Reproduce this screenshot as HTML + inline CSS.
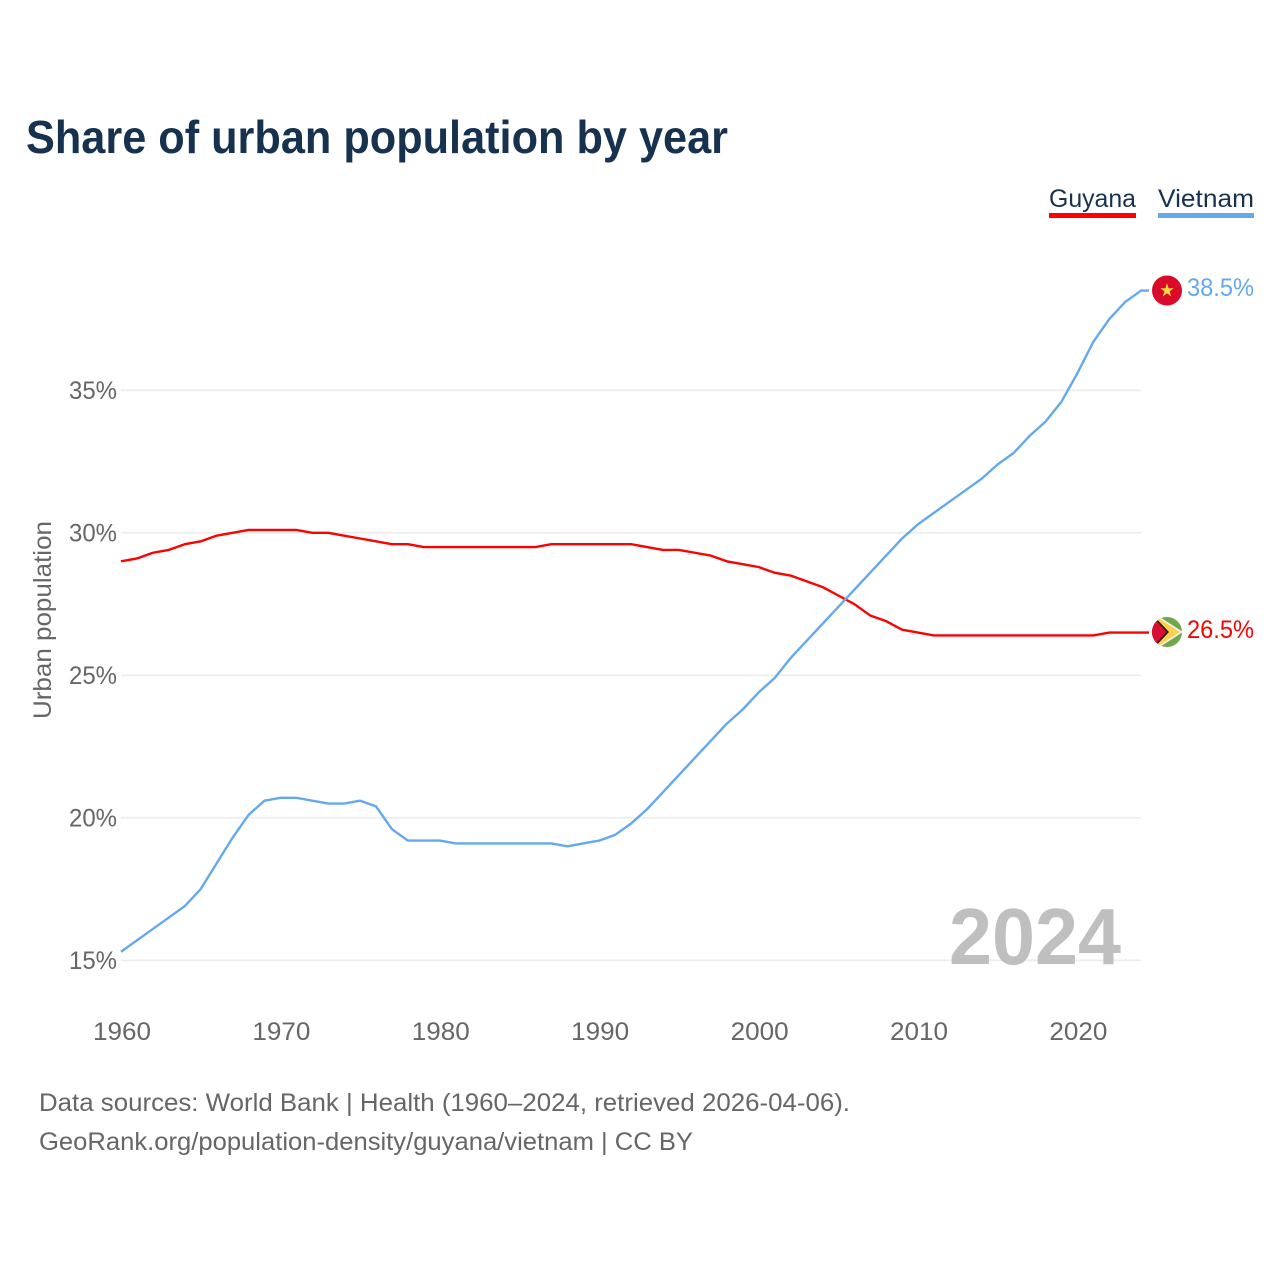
<!DOCTYPE html>
<html lang="en">
<head>
<meta charset="utf-8">
<title>Share of urban population by year</title>
<style>
html,body{margin:0;padding:0;background:#fff;width:1280px;height:1280px;overflow:hidden}
svg{display:block;font-family:"Liberation Sans",sans-serif}
</style>
</head>
<body>
<svg id="chart" xmlns="http://www.w3.org/2000/svg" width="1280" height="1280" viewBox="0 0 1280 1280">
  <defs>
    <clipPath id="vn-clip"><circle cx="1167" cy="290.5" r="15"/></clipPath>
    <clipPath id="gy-clip"><circle cx="1167" cy="632" r="15"/></clipPath>
  </defs>
  <text x="26" y="153" font-size="46" font-weight="700" fill="#17324f" textLength="702" lengthAdjust="spacingAndGlyphs">Share of urban population by year</text>

  <g id="grid"></g>

  <text x="949" y="964" font-size="80" font-weight="700" fill="#b8b8b8" fill-opacity="0.9" textLength="172" lengthAdjust="spacingAndGlyphs">2024</text>

  <g id="y-ticks"></g>
  <g id="x-ticks"></g>
  <text transform="translate(51,719) rotate(-90)" font-size="25" fill="#666" textLength="198" lengthAdjust="spacingAndGlyphs">Urban population</text>

  <g id="series"></g>

  <g>
    <text x="1049" y="207" font-size="25" fill="#17324f" textLength="87" lengthAdjust="spacingAndGlyphs">Guyana</text>
    <rect x="1049" y="213" width="87" height="5" fill="#ff0000"/>
  </g>
  <g>
    <text x="1158" y="207" font-size="25" fill="#17324f" textLength="96" lengthAdjust="spacingAndGlyphs">Vietnam</text>
    <rect x="1158" y="213" width="96" height="5" fill="#64a9ee"/>
  </g>

  <g clip-path="url(#vn-clip)">
    <rect x="1150" y="274" width="34" height="34" fill="#da0b2a"/>
    <polygon points="1167,283.3 1168.6,288.3 1173.6,288.3 1169.6,291.4 1171.1,296.4 1167,293.3 1162.9,296.4 1164.4,291.4 1160.4,288.3 1165.4,288.3" fill="#ffd83d"/>
  </g>
  <text x="1187" y="296" font-size="25" fill="#64a9ee" textLength="67" lengthAdjust="spacingAndGlyphs">38.5%</text>

  <g clip-path="url(#gy-clip)">
    <rect x="1150" y="615" width="34" height="34" fill="#6fa84a"/>
    <polygon points="1152,612 1183,632 1152,652" fill="#f2f2f2"/>
    <polygon points="1152,614 1180,632 1152,650" fill="#ffd04d"/>
    <polygon points="1152,614 1169,632 1152,650" fill="#222"/>
    <polygon points="1152,616 1166.5,632 1152,648" fill="#d80f30"/>
  </g>
  <text x="1187" y="638" font-size="25" fill="#ff0000" textLength="67" lengthAdjust="spacingAndGlyphs">26.5%</text>

  <text x="39" y="1111" font-size="25" fill="#666" textLength="811" lengthAdjust="spacingAndGlyphs">Data sources: World Bank | Health (1960–2024, retrieved 2026-04-06).</text>
  <text x="39" y="1150" font-size="25" fill="#666" textLength="654" lengthAdjust="spacingAndGlyphs">GeoRank.org/population-density/guyana/vietnam | CC BY</text>
</svg>
<script>
const years = [1960,1961,1962,1963,1964,1965,1966,1967,1968,1969,1970,1971,1972,1973,1974,1975,1976,1977,1978,1979,1980,1981,1982,1983,1984,1985,1986,1987,1988,1989,1990,1991,1992,1993,1994,1995,1996,1997,1998,1999,2000,2001,2002,2003,2004,2005,2006,2007,2008,2009,2010,2011,2012,2013,2014,2015,2016,2017,2018,2019,2020,2021,2022,2023,2024];
const guyanaValues = [29.0,29.1,29.3,29.4,29.6,29.7,29.9,30.0,30.1,30.1,30.1,30.1,30.0,30.0,29.9,29.8,29.7,29.6,29.6,29.5,29.5,29.5,29.5,29.5,29.5,29.5,29.5,29.6,29.6,29.6,29.6,29.6,29.6,29.5,29.4,29.4,29.3,29.2,29.0,28.9,28.8,28.6,28.5,28.3,28.1,27.8,27.5,27.1,26.9,26.6,26.5,26.4,26.4,26.4,26.4,26.4,26.4,26.4,26.4,26.4,26.4,26.4,26.5,26.5,26.5];
const vietnamValues = [15.3,15.7,16.1,16.5,16.9,17.5,18.4,19.3,20.1,20.6,20.7,20.7,20.6,20.5,20.5,20.6,20.4,19.6,19.2,19.2,19.2,19.1,19.1,19.1,19.1,19.1,19.1,19.1,19.0,19.1,19.2,19.4,19.8,20.3,20.9,21.5,22.1,22.7,23.3,23.8,24.4,24.9,25.6,26.2,26.8,27.4,28.0,28.6,29.2,29.8,30.3,30.7,31.1,31.5,31.9,32.4,32.8,33.4,33.9,34.6,35.6,36.7,37.5,38.1,38.5];
const yTickValues = [15,20,25,30,35];
const xTickValues = [1960,1970,1980,1990,2000,2010,2020];

const SVG_NS = 'http://www.w3.org/2000/svg';
const xScale = year => 121 + (year - 1960) * 15.94;
const yScale = value => 960.3 - (value - 15) * 28.5;

const gridGroup = document.getElementById('grid');
const yTickGroup = document.getElementById('y-ticks');
const xTickGroup = document.getElementById('x-ticks');
const seriesGroup = document.getElementById('series');

yTickValues.forEach(value => {
  const line = document.createElementNS(SVG_NS, 'line');
  
  
  line.setAttribute('x1', xScale(1960));
  line.setAttribute('x2', xScale(2024));
  line.setAttribute('y1', yScale(value));
  line.setAttribute('y2', yScale(value));
  line.setAttribute('stroke', '#ececec');
  line.setAttribute('stroke-width', '1.6');
  gridGroup.appendChild(line);

  const label = document.createElementNS(SVG_NS, 'text');
  
  
  label.setAttribute('x', 117);
  label.setAttribute('y', yScale(value) + 8.5);
  label.setAttribute('text-anchor', 'end');
  label.setAttribute('font-size', '25');
  label.setAttribute('fill', '#666');
  label.setAttribute('textLength', '48');
  label.setAttribute('lengthAdjust', 'spacingAndGlyphs');
  label.textContent = value + '%';
  yTickGroup.appendChild(label);
});

xTickValues.forEach(year => {
  const label = document.createElementNS(SVG_NS, 'text');
  
  
  label.setAttribute('x', xScale(year) + 1);
  label.setAttribute('y', 1040);
  label.setAttribute('text-anchor', 'middle');
  label.setAttribute('font-size', '25');
  label.setAttribute('fill', '#666');
  label.setAttribute('textLength', '58');
  label.setAttribute('lengthAdjust', 'spacingAndGlyphs');
  label.textContent = year;
  xTickGroup.appendChild(label);
});

function drawSeries(values, color) {
  const pts = values.map((v, i) => xScale(years[i]).toFixed(2) + ',' + yScale(v).toFixed(2));
  const last = values[values.length - 1];
  pts.push('1149,' + yScale(last).toFixed(2));
  const line = document.createElementNS(SVG_NS, 'polyline');
  line.setAttribute('points', pts.join(' '));
  line.setAttribute('fill', 'none');
  line.setAttribute('stroke', color);
  line.setAttribute('stroke-width', '2.4');
  line.setAttribute('stroke-linejoin', 'round');
  return line;
}

const guyanaLine = drawSeries(guyanaValues, '#ff0000');


seriesGroup.appendChild(guyanaLine);

const vietnamLine = drawSeries(vietnamValues, '#64a9ee');


seriesGroup.appendChild(vietnamLine);
</script>
</body>
</html>
